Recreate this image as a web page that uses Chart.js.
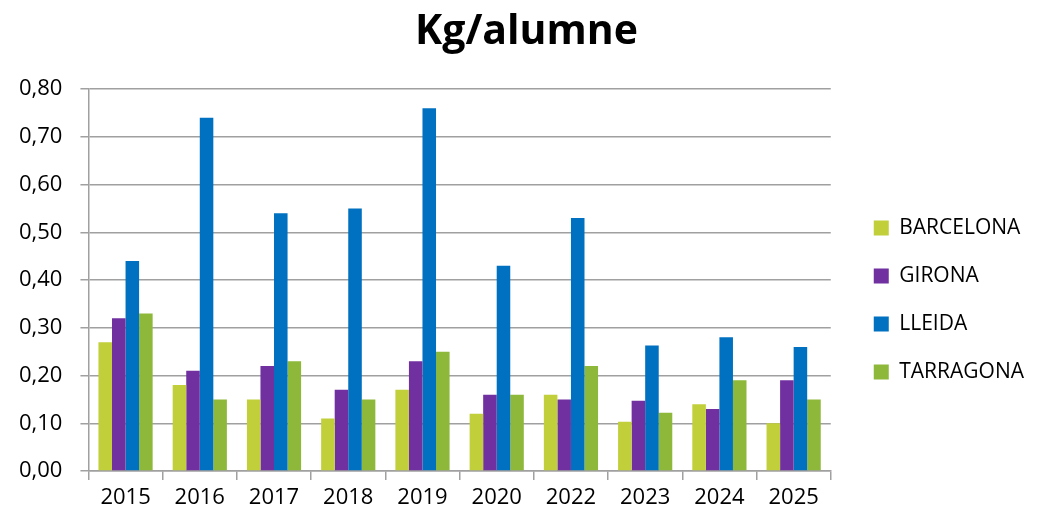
<!DOCTYPE html>
<html>
<head>
<meta charset="utf-8">
<script src="https://cdn.jsdelivr.net/npm/chart.js@4"></script>
<style>
  html, body { margin: 0; padding: 0; background: #fff; }
  #wrap { width: 1038px; height: 516px; }
</style>
</head>
<body>
<div id="wrap"><canvas id="c"></canvas></div>
<script>
const years = ['2015', '2016', '2017', '2018', '2019', '2020', '2022', '2023', '2024', '2025'];
const barcelona = [0.27, 0.18, 0.15, 0.11, 0.17, 0.12, 0.16, 0.103, 0.14, 0.10];
const girona = [0.32, 0.21, 0.22, 0.17, 0.23, 0.16, 0.15, 0.147, 0.13, 0.19];
const lleida = [0.44, 0.74, 0.54, 0.55, 0.76, 0.43, 0.53, 0.263, 0.28, 0.26];
const tarragona = [0.33, 0.15, 0.23, 0.15, 0.25, 0.16, 0.22, 0.122, 0.19, 0.15];

const FONT = "'Open Sans', 'Liberation Sans', sans-serif";

function ds(label, data, color) {
    return {
        label: label,
        data: data,
        backgroundColor: color,
        borderWidth: 0,
        barPercentage: 1,
        categoryPercentage: 0.73
    };
}

// nudge legend and title to where the original has them
const nudge = {
    id: 'nudge',
    afterLayout: function (chart) {
        const lg = chart.legend;
        lg.left += 16; lg.right += 16;
        lg.top += 40; lg.bottom += 40;
        const t = chart.titleBlock;
        t.left += 17; t.right += 17;
    }
};

new Chart(document.getElementById('c'), {
    type: 'bar',
    data: {
        labels: years,
        datasets: [
            ds('BARCELONA', barcelona, '#c0cf3a'),
            ds('GIRONA', girona, '#7030a0'),
            ds('LLEIDA', lleida, '#0070c0'),
            ds('TARRAGONA', tarragona, '#8db83a')
        ]
    },
    options: {
        responsive: true,
        maintainAspectRatio: false,
        animation: false,
        layout: { padding: { left: 1, right: 20, top: 4, bottom: 0 } },
        plugins: {
            title: {
                display: true,
                text: 'Kg/alumne',
                color: '#000',
                font: { family: FONT, size: 41, weight: 'bold' },
                padding: { top: 4, bottom: 32 }
            },
            legend: {
                position: 'right',
                labels: {
                    color: '#000',
                    boxWidth: 15,
                    boxHeight: 15,
                    padding: 27,
                    font: { family: FONT, size: 21 }
                }
            },
            tooltip: { enabled: false }
        },
        scales: {
            x: {
                offset: true,
                grid: { offset: true, drawOnChartArea: false, drawTicks: true, tickLength: 9, color: '#a0a0a0', lineWidth: 1.5 },
                border: { color: '#a0a0a0', width: 1.5 },
                ticks: { color: '#000', font: { family: FONT, size: 22, lineHeight: 1 }, padding: 7 }
            },
            y: {
                min: 0,
                max: 0.8,
                ticks: {
                    stepSize: 0.1,
                    color: '#000',
                    padding: 18,
                    font: { family: FONT, size: 22 },
                    callback: function (v) { return v.toFixed(2).replace('.', ','); }
                },
                grid: { color: '#a0a0a0', lineWidth: 1.5, tickLength: 8 },
                border: { color: '#a0a0a0', width: 1.5 }
            }
        }
    },
    plugins: [nudge]
});
</script>
</body>
</html>
